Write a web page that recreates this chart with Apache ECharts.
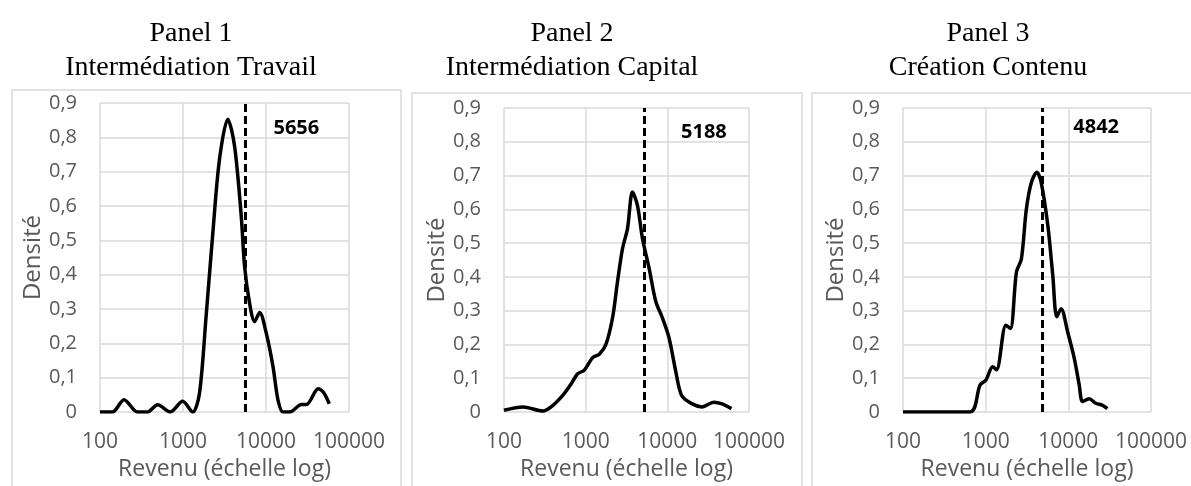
<!DOCTYPE html>
<html>
<head>
<meta charset="utf-8">
<script src="https://cdn.jsdelivr.net/npm/echarts@6/dist/echarts.min.js"></script>
<style>
  html, body { margin: 0; padding: 0; background: #fff; }
  #main { width: 1191px; height: 486px; }
</style>
</head>
<body>
<div id="main"></div>
<script>
// titres des panneaux
var titles = ['Panel 1\nIntermédiation Travail', 'Panel 2\nIntermédiation Capital', 'Panel 3\nCréation Contenu'];
// médianes (ligne pointillée)
var medians = [5656, 5188, 4842];
var xTicks = [100, 1000, 10000, 100000];
var yTicks = [0, 0.1, 0.2, 0.3, 0.4, 0.5, 0.6, 0.7, 0.8, 0.9];

// densités : [revenu, densité]
var travail = [
  [100, 0], [141, 0], [195, 0.036], [283, 0], [374, 0], [494, 0.021], [703, 0],
  [990, 0.031], [1309, 0], [1578, 0.054], [1897, 0.278], [2285, 0.52], [2753, 0.736],
  [3467, 0.853], [4178, 0.775], [5034, 0.57], [5521, 0.424], [6340, 0.317],
  [7291, 0.263], [8380, 0.29], [10090, 0.229], [12150, 0.132], [13970, 0.034],
  [16060, 0], [19330, 0], [26730, 0.022], [30730, 0.022], [42560, 0.068],
  [48990, 0.058], [57830, 0.024]
];
var capital = [
  [100, 0.005], [171, 0.015], [299, 0.003], [378, 0.015], [524, 0.049], [663, 0.083],
  [798, 0.113], [963, 0.124], [1217, 0.161], [1468, 0.171], [1770, 0.2], [2134, 0.279],
  [2455, 0.386], [2827, 0.484], [3253, 0.543], [3742, 0.651], [4305, 0.612],
  [4956, 0.514], [5975, 0.426], [7208, 0.328], [8686, 0.279], [10480, 0.22],
  [12640, 0.122], [14960, 0.049], [20190, 0.024], [26730, 0.015], [37070, 0.029],
  [46860, 0.024], [60950, 0.01]
];
var contenu = [
  [100, 0], [649, 0], [855, 0.08], [1009, 0.095], [1213, 0.134], [1355, 0.125],
  [1754, 0.257], [1995, 0.247], [2355, 0.414], [2704, 0.453], [3105, 0.6],
  [3565, 0.679], [4169, 0.71], [4699, 0.679], [5649, 0.552], [6486, 0.404],
  [7244, 0.282], [8166, 0.306], [9817, 0.237], [11800, 0.159], [13550, 0.08],
  [14860, 0.031], [17870, 0.039], [21480, 0.026], [25820, 0.02], [29650, 0.01]
];
var courbes = [travail, capital, contenu];

var chart = echarts.init(document.getElementById('main'));

// mise en page des 3 panneaux
var grids = [
  { left: 100, top: 103, width: 249, height: 309 },
  { left: 504, top: 108, width: 245, height: 307 },
  { left: 903, top: 108, width: 248, height: 307 }
];
var titleX = [186, 567, 983];
var boxes = [
  { x: 12, y: 90, w: 389 },
  { x: 412, y: 93, w: 390 },
  { x: 812, y: 93, w: 420 }
];
var labelOffset = [[28, 25], [37, 24], [31, 19]];

var gris = '#595959';
var grille = '#d9d9d9';

var option = {
  backgroundColor: '#fff',
  animation: false,
  title: [],
  grid: [],
  xAxis: [],
  yAxis: [],
  series: [],
  graphic: []
};

for (let i = 0; i < 3; i++) {
  option.title.push({
    text: titles[i],
    left: titleX[i],
    top: 12,
    textAlign: 'center',
    textStyle: {
      fontFamily: 'Liberation Serif',
      fontWeight: 'normal',
      fontSize: 28,
      lineHeight: 34,
      color: '#000'
    }
  });
  option.grid.push(grids[i]);
  option.graphic.push({
    type: 'rect',
    shape: { x: boxes[i].x, y: boxes[i].y, width: boxes[i].w, height: 420 },
    style: { fill: 'none', stroke: grille, lineWidth: 1.5 },
    silent: true
  });
  option.xAxis.push({
    type: 'log',
    logBase: 10,
    gridIndex: i,
    min: xTicks[0],
    max: xTicks[xTicks.length - 1],
    name: 'Revenu (échelle log)',
    nameLocation: 'middle',
    nameGap: 46,
    nameTextStyle: { color: gris, fontSize: 23, fontFamily: 'Open Sans' },
    axisLine: { show: false },
    axisTick: { show: false },
    axisLabel: {
      color: gris, fontSize: 21, fontFamily: 'Open Sans', margin: 20,
      formatter: function (v) { return String(Math.round(v)); }
    },
    splitLine: { show: true, lineStyle: { color: grille, width: 1.5 } }
  });
  option.yAxis.push({
    type: 'value',
    gridIndex: i,
    min: yTicks[0],
    max: yTicks[yTicks.length - 1],
    interval: 0.1,
    name: 'Densité',
    nameLocation: 'middle',
    nameGap: 54,
    nameTextStyle: { color: gris, fontSize: 24, fontFamily: 'Open Sans' },
    axisLine: { show: false },
    axisTick: { show: false },
    axisLabel: {
      color: gris, fontSize: 20, fontFamily: 'Open Sans', margin: 23,
      formatter: function (v) { return v === 0 ? '0' : v.toFixed(1).replace('.', ','); }
    },
    splitLine: { show: true, lineStyle: { color: grille, width: 1.5 } }
  });
  option.series.push({
    type: 'line',
    xAxisIndex: i,
    yAxisIndex: i,
    data: courbes[i],
    smooth: 0.3,
    symbol: 'none',
    lineStyle: { color: '#000', width: 3.5 },
    markLine: {
      silent: true,
      symbol: 'none',
      label: { show: false },
      lineStyle: { color: '#000', width: 3, type: [8, 4] },
      data: [{ xAxis: medians[i] }]
    },
    markPoint: {
      silent: true,
      symbolSize: 0,
      data: [{ coord: [medians[i], yTicks[yTicks.length - 1]] }],
      label: {
        show: true,
        position: 'inside',
        align: 'left',
        verticalAlign: 'middle',
        offset: labelOffset[i],
        formatter: String(medians[i]),
        fontFamily: 'Open Sans',
        fontWeight: 'bold',
        fontSize: 20,
        color: '#000'
      }
    }
  });
}

chart.setOption(option);
</script>
</body>
</html>
